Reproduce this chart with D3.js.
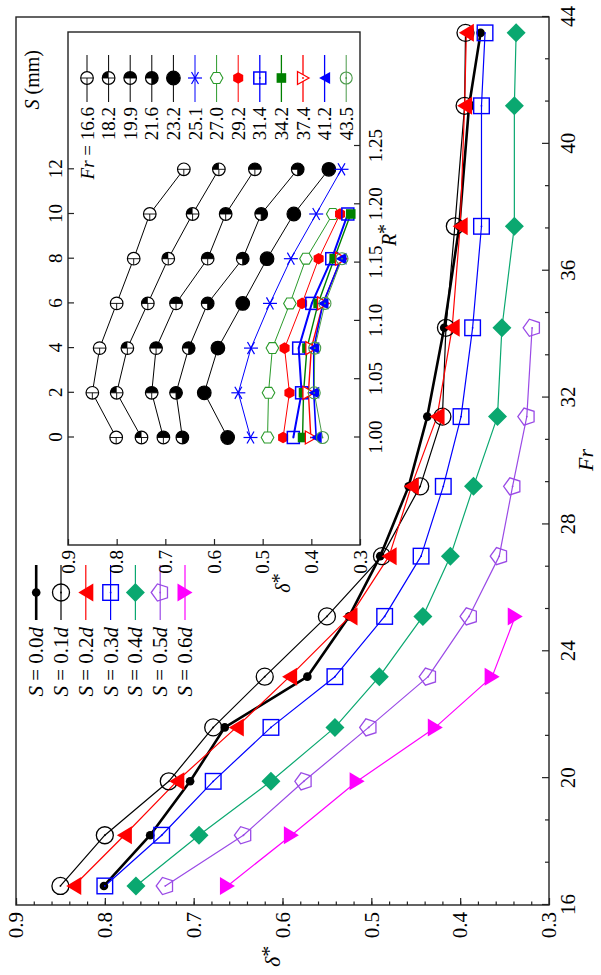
<!DOCTYPE html>
<html><head><meta charset="utf-8">
<script src="https://cdn.jsdelivr.net/npm/d3@7"></script>
<style>body{margin:0;background:#fff}svg{display:block}text{font-family:'Liberation Serif','Times New Roman',serif}</style>
</head><body>
<script>
// ---------------- data ----------------
const frValues = [16.6, 18.2, 19.9, 21.6, 23.2, 25.1, 27.0, 29.2, 31.4, 34.2, 37.4, 41.2, 43.5];
const seriesLabels = ["0.0", "0.1", "0.2", "0.3", "0.4", "0.5", "0.6"];
const delta00 = [0.801, 0.749, 0.704, 0.665, 0.572, 0.525, 0.490, 0.458, 0.437, 0.418, 0.401, 0.390, 0.377];
const delta01 = [0.850, 0.800, 0.728, 0.678, 0.620, 0.550, 0.488, 0.445, 0.420, 0.416, 0.406, 0.395, 0.394];
const delta02 = [0.835, 0.778, 0.719, 0.652, 0.592, 0.524, 0.480, 0.455, 0.426, 0.409, 0.400, 0.395, 0.393];
const delta03 = [0.800, 0.736, 0.678, 0.613, 0.541, 0.485, 0.444, 0.419, 0.399, 0.386, 0.376, 0.376, 0.372];
const delta04 = [0.765, 0.694, 0.613, 0.541, 0.491, 0.442, 0.411, 0.385, 0.358, 0.353, 0.339, 0.339, 0.337];
const delta05 = [0.732, 0.644, 0.576, 0.503, 0.436, 0.390, 0.356, 0.341, 0.325, 0.319];
const delta06 = [0.662, 0.590, 0.516, 0.428, 0.364, 0.338];
const insetSmm = [0, 2, 4, 6, 8, 10, 12];
const frTicks = [16, 20, 24, 28, 32, 36, 40, 44];
const deltaTicks = [0.3, 0.4, 0.5, 0.6, 0.7, 0.8, 0.9];
const rTicks = [1.00, 1.05, 1.10, 1.15, 1.20, 1.25];

const allDelta = [delta00, delta01, delta02, delta03, delta04, delta05, delta06];

// ---------------- styles ----------------
const mainColors = ["#000000", "#000000", "#ff0000", "#0000ff", "#0aa870", "#9a4ae6", "#ff00ff"];
const mainMarkers = ["dot", "circle", "triL", "square", "diamond", "pentL", "triR"];
const mainWidths = [2.6, 1.2, 1.2, 1.2, 1.2, 1.2, 1.2];
const insetColors = ["#000", "#000", "#000", "#000", "#000", "#0000ff", "#2a9a2a", "#ff0000", "#0000ff", "#008000", "#ff0000", "#0000ff", "#4a9a4a"];
const insetMarkers = ["q0", "q1", "q2", "q3", "q4", "aster", "hexO", "hexF", "squareO", "squareF", "triRO", "triLF", "circleO"];
const insetWidths = [1, 1, 1, 1, 1, 1, 1, 1, 2, 1.4, 1.4, 1.6, 1];
const FONT = "'Liberation Serif','Times New Roman',serif";

const svg = d3.select("body").append("svg").attr("width", 601).attr("height", 975);
svg.append("rect").attr("width", 601).attr("height", 975).attr("fill", "#fff");
const root = svg.append("g").attr("transform", "translate(0,975) rotate(-90)")
  .attr("font-family", FONT);

function centerDot(g, color) {
  g.append("circle").attr("r", 0.9).attr("fill", color);
}
function poly(g, pts) {
  return g.append("polygon").attr("points", pts.map(p => p.join(",")).join(" "));
}
function regular(n, r, a0) {
  return d3.range(n).map(i => {
    const a = (a0 + i * 360 / n) * Math.PI / 180;
    return [r * Math.cos(a), r * Math.sin(a)];
  });
}
// markers are drawn in screen orientation (counter-rotated)
function drawMarker(p, type, color, u, v) {
  const g = p.append("g").attr("transform", `translate(${u},${v}) rotate(90)`);
  switch (type) {
    case "dot": g.append("circle").attr("r", 4.3).attr("fill", color); break;
    case "circle":
      g.append("circle").attr("r", 8.5).attr("fill", "none").attr("stroke", color).attr("stroke-width", 1.3);
      centerDot(g, color); break;
    case "triL": poly(g, [[-7.5, 0], [7.5, -9], [7.5, 9]]).attr("fill", color); break;
    case "triR": poly(g, [[7.5, 0], [-7.5, -9], [-7.5, 9]]).attr("fill", color); break;
    case "square":
      g.append("rect").attr("x", -7.8).attr("y", -7.8).attr("width", 15.6).attr("height", 15.6)
        .attr("fill", "none").attr("stroke", color).attr("stroke-width", 1.4);
      centerDot(g, color); break;
    case "diamond": poly(g, [[0, -9.5], [9.5, 0], [0, 9.5], [-9.5, 0]]).attr("fill", color); break;
    case "pentL":
      poly(g, regular(5, 9, 180)).attr("fill", "none").attr("stroke", color).attr("stroke-width", 1.3);
      centerDot(g, color); break;
    case "q0": case "q1": case "q2": case "q3": case "q4": {
      const r = type === "q4" ? 6.8 : 6.3;
      g.append("circle").attr("r", r).attr("fill", "#fff").attr("stroke", color).attr("stroke-width", 1.2);
      const arc = d3.arc().innerRadius(0).outerRadius(r);
      const spans = {q1: [-Math.PI / 2, 0], q2: [-Math.PI / 2, Math.PI / 2], q3: [-Math.PI / 2, Math.PI], q4: [0, 2 * Math.PI]};
      if (spans[type]) g.append("path").attr("d", arc({startAngle: spans[type][0], endAngle: spans[type][1]})).attr("fill", color);
      if (type !== "q4") {
        g.append("line").attr("x1", -r).attr("x2", r).attr("stroke", color).attr("stroke-width", 0.9);
        g.append("line").attr("y1", 0).attr("y2", r).attr("stroke", color).attr("stroke-width", 0.9);
      }
      break;
    }
    case "aster":
      [0, 60, 120].forEach(a => {
        const c = Math.cos(a * Math.PI / 180) * 7, s = Math.sin(a * Math.PI / 180) * 7;
        g.append("line").attr("x1", -c).attr("y1", -s).attr("x2", c).attr("y2", s)
          .attr("stroke", color).attr("stroke-width", 1.2);
      });
      break;
    case "hexO":
      poly(g, regular(6, 6.3, 0)).attr("fill", "#fff").attr("stroke", color).attr("stroke-width", 1.1);
      break;
    case "hexF": poly(g, regular(6, 5.8, 90)).attr("fill", color); break;
    case "squareO":
      g.append("rect").attr("x", -6).attr("y", -6).attr("width", 12).attr("height", 12)
        .attr("fill", "none").attr("stroke", color).attr("stroke-width", 1.5);
      centerDot(g, color); break;
    case "squareF":
      g.append("rect").attr("x", -4.8).attr("y", -4.8).attr("width", 9.6).attr("height", 9.6).attr("fill", color); break;
    case "triRO":
      poly(g, [[6, 0], [-5.5, -6.5], [-5.5, 6.5]]).attr("fill", "#fff").attr("stroke", color).attr("stroke-width", 1.3);
      centerDot(g, color); break;
    case "triLF": poly(g, [[-5.5, 0], [5.5, -6], [5.5, 6]]).attr("fill", color); break;
    case "circleO":
      g.append("circle").attr("r", 6).attr("fill", "none").attr("stroke", color).attr("stroke-width", 1.1);
      centerDot(g, color); break;
  }
}
function styleAxis(sel, size) {
  sel.attr("font-family", FONT).attr("font-size", size);
  sel.select(".domain").remove();
  sel.selectAll("line").attr("stroke", "#222").attr("stroke-width", 1.2);
  sel.selectAll("text").attr("fill", "#000").attr("font-family", FONT).attr("font-size", size);
}

// ---------------- main chart ----------------
const x = d3.scaleLinear().domain([16, 44]).range([70, 958]);
const y = d3.scaleLinear().domain([0.3, 0.9]).range([549, 16]);

root.append("g").attr("transform", "translate(0,549)")
  .call(d3.axisBottom(x).tickValues(d3.range(16, 44.01, 4 / 3).filter(t => Math.abs((t - 16) % 4) > 0.01 && Math.abs((t - 16) % 4 - 4) > 0.01))
    .tickSizeInner(-4).tickSizeOuter(0).tickFormat(""))
  .call(s => styleAxis(s, 21));
root.append("g").attr("transform", "translate(0,549)")
  .call(d3.axisBottom(x).tickValues(frTicks).tickSizeInner(-7).tickSizeOuter(0).tickPadding(11).tickFormat(d3.format("d")))
  .call(s => styleAxis(s, 21));
root.append("g").attr("transform", "translate(70,0)")
  .call(d3.axisLeft(y).tickValues(d3.range(0.32, 0.9, 0.02)).tickSizeInner(-3.5).tickSizeOuter(0).tickFormat(""))
  .call(s => styleAxis(s, 21));
root.append("g").attr("transform", "translate(70,0)")
  .call(d3.axisLeft(y).tickValues(deltaTicks).tickSizeInner(-7).tickSizeOuter(0).tickPadding(7).tickFormat(d3.format(".1f")))
  .call(s => styleAxis(s, 21));

root.append("rect").attr("x", 70).attr("y", 16).attr("width", 888).attr("height", 533)
  .attr("fill", "none").attr("stroke", "#222").attr("stroke-width", 1.4);

const line = d3.line().x(d => x(d.fr)).y(d => y(d.v));
allDelta.forEach((arr, k) => {
  const pts = arr.map((v, i) => ({fr: frValues[i], v}));
  root.append("path").attr("d", line(pts)).attr("fill", "none")
    .attr("stroke", mainColors[k]).attr("stroke-width", mainWidths[k]).attr("stroke-linejoin", "round");
});
allDelta.forEach((arr, k) => {
  arr.forEach((v, i) => drawMarker(root, mainMarkers[k], mainColors[k], x(frValues[i]), y(v)));
});

// axis titles
root.append("text").attr("x", 515).attr("y", 593).attr("text-anchor", "middle")
  .attr("font-size", 22).attr("font-style", "italic").text("Fr");
const dt = root.append("text").attr("x", 8).attr("y", 280).attr("font-size", 22);
dt.append("tspan").attr("font-style", "italic").text("δ");
dt.append("tspan").attr("dy", -4).text("*");

// main legend
seriesLabels.forEach((lab, k) => {
  const v = 36.2 + 24.8 * k;
  root.append("line").attr("x1", 355).attr("x2", 410).attr("y1", v).attr("y2", v)
    .attr("stroke", mainColors[k]).attr("stroke-width", mainWidths[k]);
  drawMarker(root, mainMarkers[k], mainColors[k], 382.5, v);
  const t = root.append("text").attr("x", 348).attr("y", v + 7).attr("text-anchor", "end").attr("font-size", 21);
  t.append("tspan").attr("font-style", "italic").text("S");
  t.append("tspan").text(" = " + lab);
  t.append("tspan").attr("font-style", "italic").text("d");
});

// ---------------- inset ----------------
const sx = d3.scaleLinear().domain([0, 12]).range([537.5, 805.7]);
const rx = d3.scaleLinear().domain([1.0, 1.25]).range([537.5, 829]);
const iy = d3.scaleLinear().domain([0.3, 0.9]).range([360, 68]);

root.append("rect").attr("x", 430).attr("y", 68).attr("width", 513).attr("height", 292)
  .attr("fill", "#fff").attr("stroke", "#222").attr("stroke-width", 1.4);

root.append("g").attr("transform", "translate(0,360)")
  .call(d3.axisBottom(rx).tickValues(rTicks).tickSizeInner(-6).tickSizeOuter(0).tickPadding(9).tickFormat(d3.format(".2f")))
  .call(s => styleAxis(s, 19));
root.append("g").attr("transform", "translate(0,68)")
  .call(d3.axisTop(sx).tickValues(insetSmm).tickSizeInner(-6).tickSizeOuter(0).tickPadding(6).tickFormat(d3.format("d")))
  .call(s => styleAxis(s, 19));
root.append("g").attr("transform", "translate(430,0)")
  .call(d3.axisLeft(iy).tickValues(deltaTicks).tickSizeInner(-6).tickSizeOuter(0).tickPadding(5).tickFormat(d3.format(".1f")))
  .call(s => styleAxis(s, 19));

const st = root.append("text").attr("x", 925).attr("y", 39).attr("text-anchor", "end").attr("font-size", 20);
st.append("tspan").attr("font-style", "italic").text("S");
st.append("tspan").text(" (mm)");
const rt = root.append("text").attr("x", 740).attr("y", 396).attr("text-anchor", "middle").attr("font-size", 20);
rt.append("tspan").attr("font-style", "italic").text("R");
rt.append("tspan").attr("dy", -4).text("*");
const it = root.append("text").attr("x", 392).attr("y", 290).attr("text-anchor", "middle").attr("font-size", 20);
it.append("tspan").attr("font-style", "italic").text("δ");
it.append("tspan").attr("dy", -4).text("*");

const iline = d3.line().x(d => sx(d.s)).y(d => iy(d.v));
const insetSeries = frValues.map((fr, i) =>
  allDelta.map((arr, k) => ({s: insetSmm[k], v: arr[i]})).filter(d => d.v !== undefined));
insetSeries.forEach((pts, i) => {
  root.append("path").attr("d", iline(pts)).attr("fill", "none")
    .attr("stroke", insetColors[i]).attr("stroke-width", insetWidths[i]);
});
insetSeries.forEach((pts, i) => {
  pts.forEach(d => drawMarker(root, insetMarkers[i], insetColors[i], sx(d.s), iy(d.v)));
});

// inset legend
frValues.forEach((fr, i) => {
  const v = 87 + 21.6 * i;
  root.append("line").attr("x1", 873).attr("x2", 920).attr("y1", v).attr("y2", v)
    .attr("stroke", insetColors[i]).attr("stroke-width", Math.min(insetWidths[i], 1.3));
  drawMarker(root, insetMarkers[i], insetColors[i], 897, v);
  const t = root.append("text").attr("x", 868).attr("y", v + 6.5).attr("text-anchor", "end").attr("font-size", 19);
  if (i === 0) {
    t.append("tspan").attr("font-style", "italic").text("Fr");
    t.append("tspan").text(" = ");
  }
  t.append("tspan").text(d3.format(".1f")(fr));
});
</script>
</body></html>
